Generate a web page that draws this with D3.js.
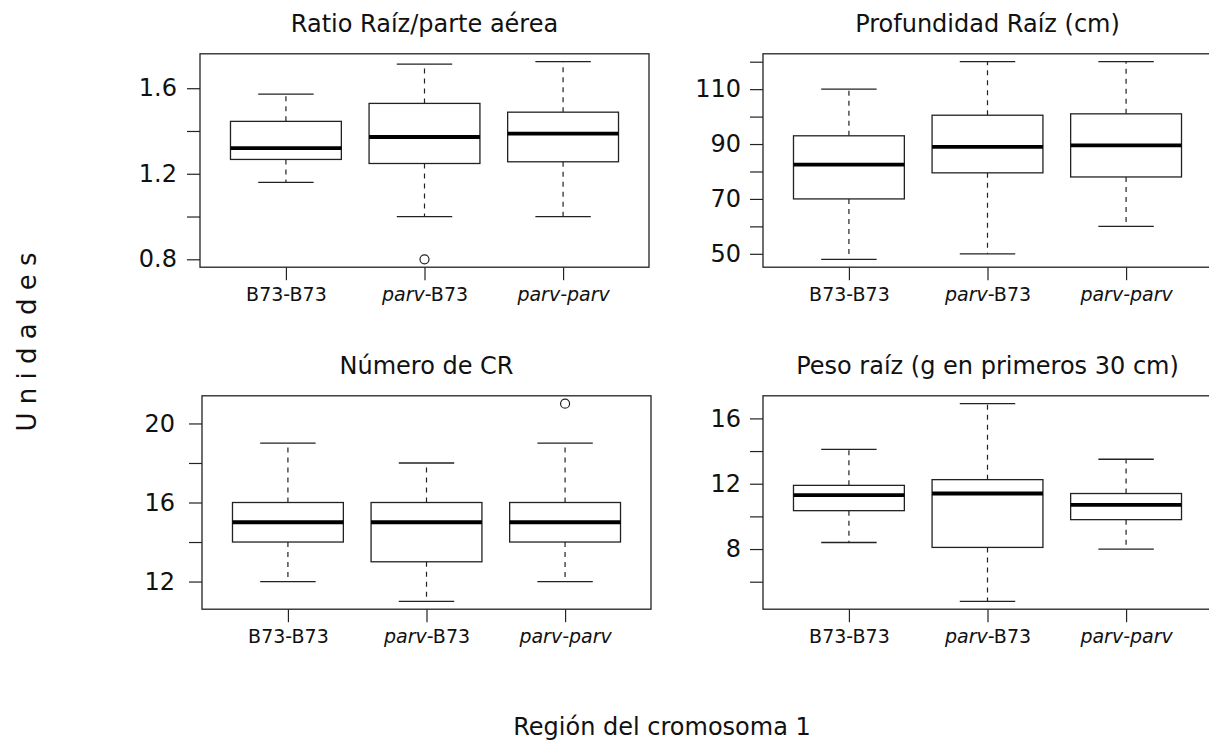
<!DOCTYPE html>
<html>
<head>
<meta charset="utf-8">
<script src="https://cdnjs.cloudflare.com/ajax/libs/d3/7.8.5/d3.min.js"></script>
<style>
  body { margin: 0; background: #fff; }
  svg { display: block; font-family: "DejaVu Sans", sans-serif; }
</style>
</head>
<body>
<svg id="chart" width="1209" height="749"></svg>
<script>
// groups on the x axis (pieces: [text, italic])
const groups = [1, 2, 3];
const groupLabels = [
  [["B73-B73", false]],
  [["parv", true], ["-B73", false]],
  [["parv-parv", true]]
];

// box stats per group: [lower whisker, Q1, median, Q3, upper whisker]
const ratioStats = [[1.16, 1.267, 1.32, 1.445, 1.572], [1.0, 1.248, 1.372, 1.529, 1.713], [1.0, 1.256, 1.388, 1.488, 1.724]];
const ratioOutliers = [[], [0.8], []];
const ratioTicks = [0.8, 1.0, 1.2, 1.4, 1.6];
const ratioLabels = [0.8, 1.2, 1.6];

const profStats = [[48, 70, 82.5, 93, 110], [50, 79.5, 89, 100.5, 120], [60, 78, 89.5, 101, 120]];
const profOutliers = [[], [], []];
const profTicks = [50, 60, 70, 80, 90, 100, 110, 120];
const profLabels = [50, 70, 90, 110];

const numStats = [[12, 14, 15, 16, 19], [11, 13, 15, 16, 18], [12, 14, 15, 16, 19]];
const numOutliers = [[], [], [21]];
const numTicks = [12, 14, 16, 18, 20];
const numLabels = [12, 16, 20];

const pesoStats = [[8.4, 10.35, 11.3, 11.9, 14.1], [4.8, 8.1, 11.4, 12.25, 16.9], [8.0, 9.8, 10.7, 11.4, 13.5]];
const pesoOutliers = [[], [], []];
const pesoTicks = [6, 8, 10, 12, 14, 16];
const pesoLabels = [8, 12, 16];

const titles = ["Ratio Raíz/parte aérea", "Profundidad Raíz (cm)", "Número de CR", "Peso raíz (g en primeros 30 cm)"];

const svg = d3.select("#chart");

// plot regions (the right column runs past the picture edge, as in the original)
const panels = [
  { title: titles[0], stats: ratioStats, out: ratioOutliers, ticks: ratioTicks, labels: ratioLabels, fmt: d3.format(".1f"), x0: 200, y0: 53.8, pad: 10 },
  { title: titles[1], stats: profStats, out: profOutliers, ticks: profTicks, labels: profLabels, fmt: d3.format("d"), x0: 763, y0: 53.8, pad: 9 },
  { title: titles[2], stats: numStats, out: numOutliers, ticks: numTicks, labels: numLabels, fmt: d3.format("d"), x0: 202, y0: 395.8, pad: 14 },
  { title: titles[3], stats: pesoStats, out: pesoOutliers, ticks: pesoTicks, labels: pesoLabels, fmt: d3.format("d"), x0: 763, y0: 395.8, pad: 9 }
];
const pw = 449, ph = 213.4, tickLen = 13;
const lineCol = "#222";

panels.forEach(p => {
  const g = svg.append("g").attr("transform", `translate(${p.x0},${p.y0})`);

  // R style ranges: data extent + 4%
  const all = p.stats.flat().concat(p.out.flat());
  const [lo, hi] = d3.extent(all);
  const ext = (hi - lo) * 0.04;
  const y = d3.scaleLinear().domain([lo - ext, hi + ext]).range([ph, 0]);
  const x = d3.scaleLinear().domain([0.5 - 0.12, 3.5 + 0.12]).range([0, pw]);
  const bw = x(1.8) - x(1);   // boxwex 0.8

  // y axis
  const ya = g.append("g")
    .call(d3.axisLeft(y).tickValues(p.ticks).tickSize(tickLen).tickPadding(p.pad)
      .tickFormat(d => p.labels.includes(d) ? p.fmt(d) : ""));
  ya.select(".domain").remove();
  ya.selectAll(".tick line").attr("stroke", lineCol).attr("stroke-width", 1.2);
  ya.selectAll(".tick text").attr("font-size", 24).attr("fill", "#111")
    .attr("font-family", "DejaVu Sans");

  // x axis
  const xa = g.append("g").attr("transform", `translate(0,${ph})`)
    .call(d3.axisBottom(x).tickValues(groups).tickSize(tickLen).tickFormat(""));
  xa.select(".domain").remove();
  xa.selectAll(".tick line").attr("stroke", lineCol).attr("stroke-width", 1.2);
  xa.selectAll(".tick text").each(function(d, i) {
    const t = d3.select(this).attr("y", 34).attr("dy", null)
      .attr("font-size", 19).attr("fill", "#111").attr("font-family", "DejaVu Sans");
    groupLabels[i].forEach(([s, it]) => {
      t.append("tspan").text(s).attr("font-style", it ? "italic" : "normal");
    });
  });

  // frame
  g.append("rect").attr("width", pw).attr("height", ph)
    .attr("fill", "none").attr("stroke", lineCol).attr("stroke-width", 1.3);

  // boxes
  p.stats.forEach((s, i) => {
    const cx = x(groups[i]);
    const [wl, q1, md, q3, wh] = s;
    const bg = g.append("g");
    bg.append("line").attr("x1", cx).attr("x2", cx).attr("y1", y(q3)).attr("y2", y(wh))
      .attr("stroke", lineCol).attr("stroke-width", 1.2).attr("stroke-dasharray", "5,5");
    bg.append("line").attr("x1", cx).attr("x2", cx).attr("y1", y(q1)).attr("y2", y(wl))
      .attr("stroke", lineCol).attr("stroke-width", 1.2).attr("stroke-dasharray", "5,5");
    [wl, wh].forEach(v => {
      bg.append("line").attr("x1", cx - bw / 4).attr("x2", cx + bw / 4)
        .attr("y1", y(v)).attr("y2", y(v)).attr("stroke", lineCol).attr("stroke-width", 1.3);
    });
    bg.append("rect").attr("x", cx - bw / 2).attr("width", bw)
      .attr("y", y(q3)).attr("height", y(q1) - y(q3))
      .attr("fill", "#fff").attr("stroke", lineCol).attr("stroke-width", 1.3);
    bg.append("line").attr("x1", cx - bw / 2).attr("x2", cx + bw / 2)
      .attr("y1", y(md)).attr("y2", y(md)).attr("stroke", "#000").attr("stroke-width", 3.8);
    p.out[i].forEach(v => {
      bg.append("circle").attr("cx", cx).attr("cy", y(v)).attr("r", 4.5)
        .attr("fill", "none").attr("stroke", lineCol).attr("stroke-width", 1.2);
    });
  });

  // title
  g.append("text").attr("x", pw / 2).attr("y", -22).attr("text-anchor", "middle")
    .attr("font-size", 24).attr("fill", "#111").text(p.title);
});

// outer axis titles
svg.append("text").attr("x", 662).attr("y", 735).attr("text-anchor", "middle")
  .attr("font-size", 24).attr("fill", "#111").text("Región del cromosoma 1");
svg.append("text").attr("transform", "translate(36,342) rotate(-90)")
  .attr("text-anchor", "middle").attr("font-size", 26).attr("fill", "#111")
  .text("U n i d a d e s");
</script>
</body>
</html>
